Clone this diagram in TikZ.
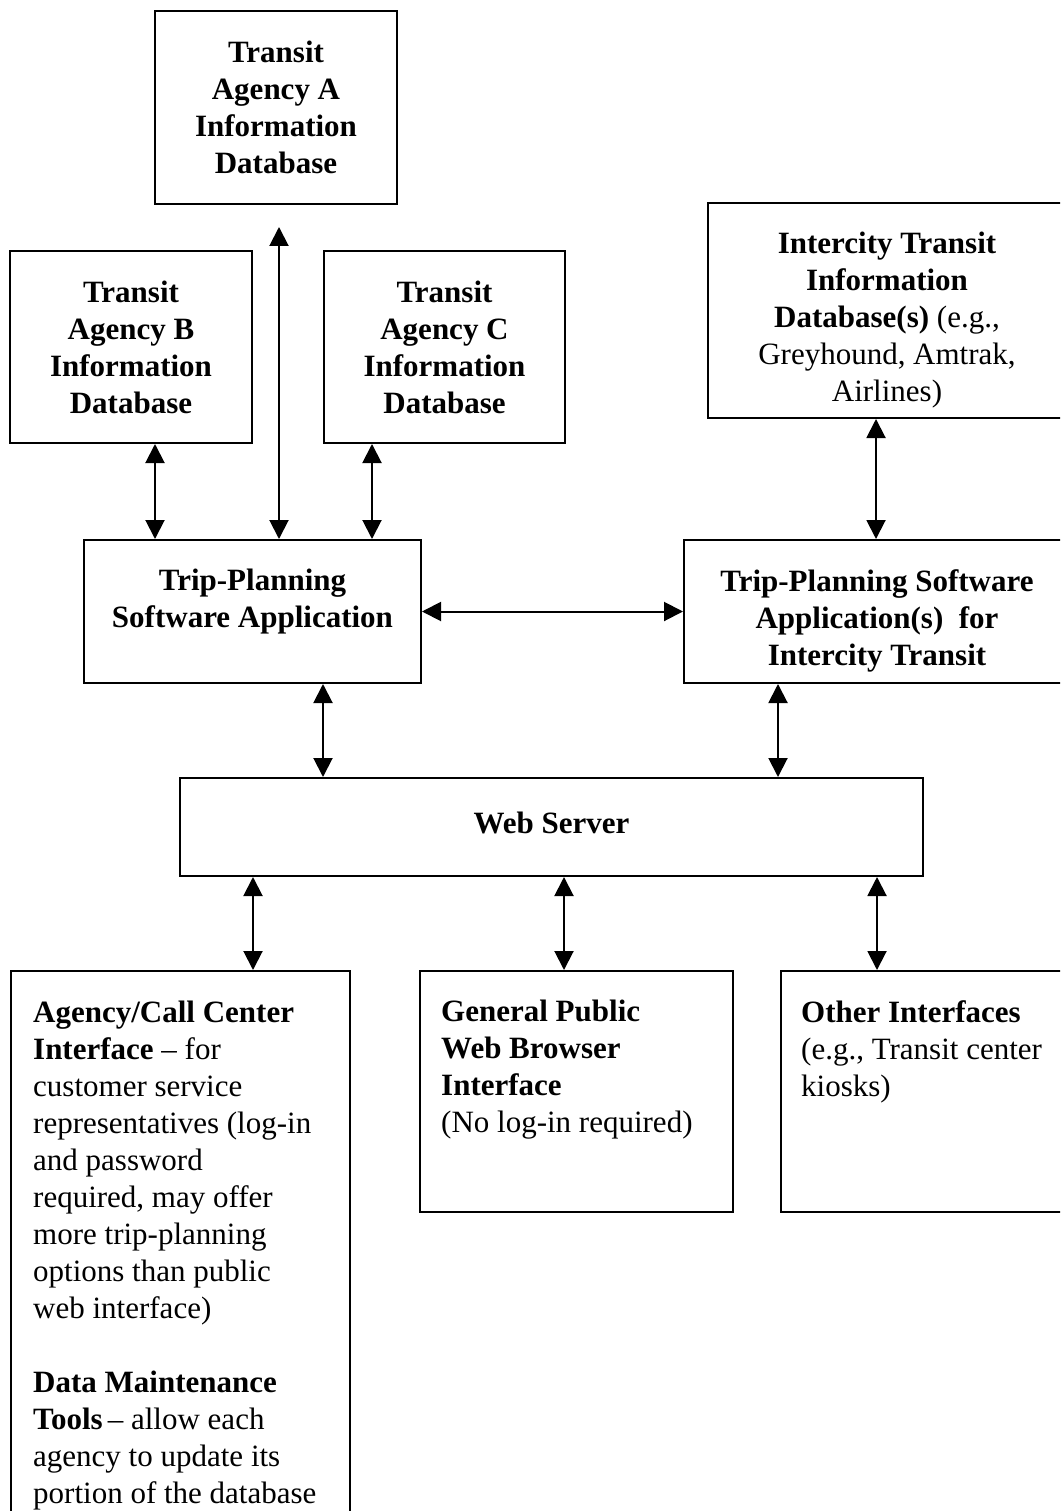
\documentclass[tikz,border=0pt]{standalone}
\usepackage{fontspec}
\setmainfont{Liberation Serif}
\usetikzlibrary{arrows.meta, positioning}

\begin{document}
\begin{tikzpicture}[x=1pt, y=-1pt,
    box/.style={draw, line width=2pt, inner sep=0pt},
    title/.style={font=\fontsize{31}{37}\selectfont\bfseries, align=center, inner sep=0pt,
                  execute at begin node=\strut},
    desc/.style={font=\fontsize{31}{37}\selectfont, align=left, inner sep=0pt,
                 execute at begin node=\strut},
    link/.style={line width=2pt, {Triangle[length=19pt,width=19pt]}-{Triangle[length=19pt,width=19pt]}}]
    \useasboundingbox (0,0) rectangle (1060,1511);
    \clip (0,0) rectangle (1060,1511);

    % Agency databases
    \node[box, minimum width=242pt, minimum height=193pt] (dbA) at (276,107.5) {};
    \node[title, below=31pt of dbA.north] (dbAtxt) {Transit\\Agency A\\Information\\Database};

    \node[box, minimum width=242pt, minimum height=192pt] (dbB) at (131,347) {};
    \node[title, below=31pt of dbB.north] (dbBtxt) {Transit\\Agency B\\Information\\Database};

    \node[box, minimum width=241pt, minimum height=192pt] (dbC) at (444.5,347) {};
    \node[title, below=31pt of dbC.north] (dbCtxt) {Transit\\Agency C\\Information\\Database};

    % Intercity database
    \node[box, minimum width=358pt, minimum height=215pt] (dbIC) at (887,310.5) {};
    \node[title, below=30pt of dbIC.north] (dbICtxt) {Intercity Transit\\Information\\
        Database(s) \mdseries(e.g.,\\\mdseries Greyhound, Amtrak,\\\mdseries Airlines)};

    % Trip-planning applications
    \node[box, minimum width=337pt, minimum height=143pt] (tp) at (252.5,611.5) {};
    \node[title, below=30pt of tp.north] (tptxt) {Trip-Planning\\Software Application};

    \node[box, minimum width=386pt, minimum height=143pt] (tpIC) at (877,611.5) {};
    \node[title, below=30pt of tpIC.north] (tpICtxt) {Trip-Planning Software\\Application(s)\ \ for\\Intercity Transit};

    % Web server
    \node[box, minimum width=743pt, minimum height=98pt] (web) at (551.5,827) {};
    \node[title, below=30pt of web.north] (webtxt) {Web Server};

    % Interfaces
    \node[box, minimum width=339pt, minimum height=560pt, anchor=north west] (agency) at (10,970) {};
    \node[desc, anchor=north west] (agencytxt) at ([shift={(23pt,-31pt)}]agency.north west)
        {\textbf{Agency/Call Center}\\\textbf{Interface} -- for\\customer service\\representatives (log-in\\
         and password\\required, may offer\\more trip-planning\\options than public\\web interface)\\[37pt]
         \textbf{Data Maintenance}\\\textbf{Tools}\,-- allow each\\agency to update its\\portion of the database};

    \node[box, minimum width=313pt, minimum height=241pt, anchor=north west] (public) at (419,970) {};
    \node[desc, anchor=north west] (publictxt) at ([shift={(22pt,-30pt)}]public.north west)
        {\textbf{General Public}\\\textbf{Web Browser}\\\textbf{Interface}\\(No log-in required)};

    \node[box, minimum width=296pt, minimum height=241pt, anchor=north west] (other) at (780,970) {};
    \node[desc, anchor=north west] (othertxt) at ([shift={(21pt,-30pt)}]other.north west)
        {\textbf{Other Interfaces}\\(e.g., Transit center\\kiosks)};

    % connectors
    \coordinate (aTip) at (279,227);
    \coordinate (xB) at (155,0);
    \coordinate (xC) at (372,0);
    \coordinate (xIC) at (876,0);
    \coordinate (xTP) at (323,0);
    \coordinate (xTPIC) at (778,0);
    \coordinate (xAg) at (253,0);
    \coordinate (xPub) at (564,0);
    \coordinate (xOth) at (877,0);

    \draw[link] (aTip) -- (aTip |- tp.north);
    \draw[link] (xB |- dbB.south) -- (xB |- tp.north);
    \draw[link] (xC |- dbC.south) -- (xC |- tp.north);
    \draw[link] (xIC |- dbIC.south) -- (xIC |- tpIC.north);
    \draw[link] (tp.east) -- (tp.east -| tpIC.west);
    \draw[link] (xTP |- tp.south) -- (xTP |- web.north);
    \draw[link] (xTPIC |- tpIC.south) -- (xTPIC |- web.north);
    \draw[link] (xAg |- web.south) -- (xAg |- agency.north);
    \draw[link] (xPub |- web.south) -- (xPub |- public.north);
    \draw[link] (xOth |- web.south) -- (xOth |- other.north);
\end{tikzpicture}
\end{document}
